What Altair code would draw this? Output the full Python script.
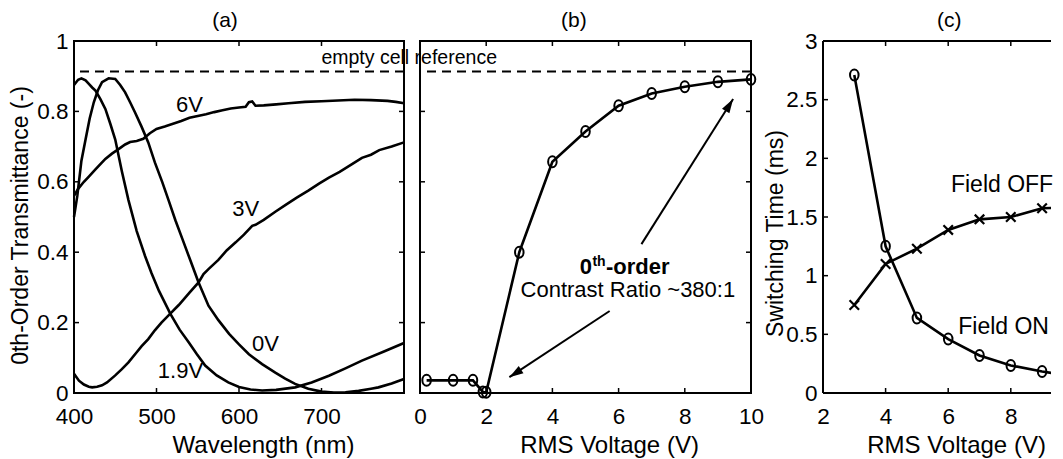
import altair as alt
import pandas as pd

FONT = "Liberation Sans"
BLACK = "#000000"
H = 352
WA, WB, WC = 330, 331, 228
TK = 5

# ---------------- panel (a): spectra ----------------
wl_0v = [400, 404, 409, 414, 419, 424, 429, 434, 442, 450, 456, 462, 468, 474, 482, 490, 498, 507, 515, 523,
         531, 541, 551, 563, 575, 588, 600, 612, 628, 644, 656, 668, 684, 700, 715, 729, 745, 760, 769, 785, 800]
t_0v = [0.50, 0.56, 0.66, 0.72, 0.78, 0.826, 0.86, 0.883, 0.894, 0.892, 0.875, 0.854, 0.826, 0.797, 0.756, 0.712,
        0.655, 0.599, 0.545, 0.49, 0.44, 0.377, 0.314, 0.248, 0.207, 0.168, 0.138, 0.110, 0.082, 0.058, 0.041,
        0.026, 0.012, 0.004, 0.001, 0.002, 0.006, 0.012, 0.016, 0.027, 0.040]

wl_19v = [400, 405, 409, 414, 418, 422, 426, 432, 438, 444, 450, 458, 466, 476, 486, 494, 503, 517, 528, 539,
          549, 559, 573, 587, 600, 614, 628, 645, 668, 688, 709, 729, 749, 775, 800]
t_19v = [0.875, 0.89, 0.894, 0.888, 0.878, 0.868, 0.859, 0.835, 0.807, 0.765, 0.72, 0.63, 0.548, 0.46, 0.39,
         0.34, 0.29, 0.224, 0.18, 0.144, 0.11, 0.078, 0.05, 0.030, 0.017, 0.01, 0.007, 0.009, 0.016, 0.03,
         0.049, 0.07, 0.092, 0.117, 0.142]

wl_3v = [400, 406, 412, 418, 422, 428, 434, 440, 450, 458, 466, 475, 482, 490, 498, 506, 517, 527, 540, 551,
         557, 563, 575, 585, 596, 606, 616, 620, 630, 644, 657, 670, 684, 697, 709, 722, 737, 749, 760, 770, 785, 800]
t_3v = [0.055, 0.035, 0.024, 0.018, 0.016, 0.018, 0.022, 0.03, 0.05, 0.068, 0.087, 0.113, 0.133, 0.153, 0.178,
        0.2, 0.226, 0.25, 0.285, 0.314, 0.338, 0.352, 0.378, 0.405, 0.428, 0.45, 0.475, 0.478, 0.492, 0.515,
        0.535, 0.555, 0.575, 0.595, 0.612, 0.628, 0.65, 0.668, 0.677, 0.69, 0.7, 0.712]

wl_6v = [400, 405, 412, 418, 426, 432, 438, 446, 454, 462, 468, 476, 484, 492, 500, 510, 520, 530, 540, 550,
         560, 570, 580, 590, 600, 608, 612, 616, 620, 630, 645, 660, 680, 700, 720, 740, 760, 780, 790, 800]
t_6v = [0.56, 0.58, 0.6, 0.615, 0.635, 0.65, 0.665, 0.68, 0.693, 0.706, 0.713, 0.716, 0.722, 0.738, 0.75,
        0.757, 0.765, 0.773, 0.782, 0.787, 0.792, 0.798, 0.803, 0.808, 0.811, 0.813, 0.826, 0.828, 0.816,
        0.817, 0.82, 0.823, 0.827, 0.829, 0.831, 0.833, 0.832, 0.83, 0.827, 0.823]

a_labels = ["6V", "3V", "0V", "1.9V"]
a_label_x = [540, 608, 632, 529]
a_label_y = [0.797, 0.504, 0.120, 0.042]

empty_ref = 0.913
a_xticks = [400, 500, 600, 700]
a_yticks = [0, 0.2, 0.4, 0.6, 0.8, 1]

# ---------------- panel (b): transmittance vs voltage ----------------
v_b = [0.2, 1, 1.6, 1.9, 2, 3, 4, 5, 6, 7, 8, 9, 10]
t_b = [0.036, 0.036, 0.036, 0.003, 0.002, 0.400, 0.657, 0.743, 0.816, 0.851, 0.870, 0.884, 0.891]
b_xticks = [0, 2, 4, 6, 8, 10]

arrow1_x = [6.69, 9.46]
arrow1_y = [0.423, 0.835]
arrow2_x = [5.73, 2.70]
arrow2_y = [0.233, 0.045]

# ---------------- panel (c): switching times ----------------
v_c = [3, 4, 5, 6, 7, 8, 9, 10]
t_on = [2.71, 1.25, 0.64, 0.46, 0.32, 0.235, 0.184, 0.14]
t_off = [0.75, 1.10, 1.23, 1.39, 1.48, 1.50, 1.575, 1.58]
c_xticks = [2, 4, 6, 8]
c_yticks = [0, 0.5, 1, 1.5, 2, 2.5, 3]
c_xmax = 2 + WC / 31.3   # the panel is cut at the picture's right edge

# panel titles (placed in each panel's data frame, above the plot)
titles = ["(a)", "(b)", "(c)"]
title_x = [583, 4.65, 6.03]
title_y = [1.0398, 1.0398, 3.119]

ELLIPSE = "M0,-1A0.78,1,0,1,1,0,1A0.78,1,0,1,1,0,-1Z"
XMARK = "M-1,-1L1,1M-1,1L1,-1"
HEAD = "M0,0L0.42,1.35L-0.42,1.35Z"


def xenc(domain, values, title, title_x):
    return alt.X("x:Q", scale=alt.Scale(domain=domain, nice=False, zero=False),
                 axis=alt.Axis(values=values, format="d", title=title, ticks=False, tickSize=0,
                               domain=False, grid=False, labelPadding=12, labelFontSize=22.5,
                               labelFont=FONT, labelColor=BLACK, labelFlush=False, labelOverlap=False,
                               titleFontSize=24, titleFont=FONT, titleFontWeight="normal",
                               titleColor=BLACK, titleX=title_x, titleY=59,
                               titleBaseline="alphabetic"))


def yenc(domain, values, title, title_x, title_y):
    if title is None:
        return alt.Y("y:Q", scale=alt.Scale(domain=domain, nice=False, zero=False), axis=None)
    return alt.Y("y:Q", scale=alt.Scale(domain=domain, nice=False, zero=False),
                 axis=alt.Axis(values=values, format="~g", title=title, ticks=False, tickSize=0,
                               domain=False, grid=False, labelPadding=6, labelFontSize=22.5,
                               labelFont=FONT, labelColor=BLACK, labelFlush=False, labelOverlap=False,
                               titleFontSize=23, titleFont=FONT, titleFontWeight="normal",
                               titleColor=BLACK, titleX=title_x, titleY=title_y,
                               titleBaseline="alphabetic"))


def tick_layers(X, Y, xt, yt, width, sides=("l", "r", "b", "t")):
    out = []
    dx = pd.DataFrame({"x": xt})
    dy = pd.DataFrame({"y": yt})
    if "b" in sides:
        out.append(alt.Chart(dx).mark_rule(color=BLACK, strokeWidth=1.5).encode(
            x=X, y=alt.value(H), y2=alt.value(H - TK)))
    if "t" in sides:
        out.append(alt.Chart(dx).mark_rule(color=BLACK, strokeWidth=1.5).encode(
            x=X, y=alt.value(0), y2=alt.value(TK)))
    if "l" in sides:
        out.append(alt.Chart(dy).mark_rule(color=BLACK, strokeWidth=1.5).encode(
            y=Y, x=alt.value(0), x2=alt.value(TK)))
    if "r" in sides:
        out.append(alt.Chart(dy).mark_rule(color=BLACK, strokeWidth=1.5).encode(
            y=Y, x=alt.value(width - TK), x2=alt.value(width)))
    return out


def title_layer(i, X, Y):
    return alt.Chart(pd.DataFrame({"x": [title_x[i]], "y": [title_y[i]], "t": [titles[i]]})).mark_text(
        font=FONT, fontSize=21, color=BLACK, align="center", baseline="alphabetic").encode(
        x=X, y=Y, text="t:N")


# ---------- build panel (a) ----------
rows = []
for name, wl, tt in [("0V", wl_0v, t_0v), ("1.9V", wl_19v, t_19v), ("3V", wl_3v, t_3v), ("6V", wl_6v, t_6v)]:
    for a, b in zip(wl, tt):
        rows.append({"x": a, "y": b, "s": name})
df_a = pd.DataFrame(rows)

XA = xenc([400, 800], a_xticks, "Wavelength (nm)", 189)
YA = yenc([0, 1], a_yticks, "0th-Order Transmittance (-)", -47, 184)

a_lines = alt.Chart(df_a).mark_line(color=BLACK, strokeWidth=2.6).encode(x=XA, y=YA, detail="s:N")
a_ref = alt.Chart(pd.DataFrame({"y": [empty_ref]})).mark_rule(
    color=BLACK, strokeWidth=2, strokeDash=[9, 6]).encode(y=YA)
a_text = alt.Chart(pd.DataFrame({"x": a_label_x, "y": a_label_y, "t": a_labels})).mark_text(
    font=FONT, fontSize=22, color=BLACK, align="center", baseline="alphabetic").encode(x=XA, y=YA, text="t:N")
a_reftext = alt.Chart(pd.DataFrame({"x": [806.3], "y": [0.935], "t": ["empty cell reference"]})).mark_text(
    font=FONT, fontSize=19.5, color=BLACK, align="center", baseline="alphabetic").encode(x=XA, y=YA, text="t:N")

panel_a = alt.layer(a_lines, a_ref, a_text, a_reftext, title_layer(0, XA, YA),
                    *tick_layers(XA, YA, a_xticks, a_yticks, WA)).properties(width=WA, height=H)

# ---------- build panel (b) ----------
XB = xenc([0, 10], b_xticks, "RMS Voltage (V)", 189)
YB = yenc([0, 1], a_yticks, None, 0, 0)
df_b = pd.DataFrame({"x": v_b, "y": t_b})
b_line = alt.Chart(df_b).mark_line(color=BLACK, strokeWidth=2.6).encode(x=XB, y=YB)
b_pts = alt.Chart(df_b).mark_point(shape=ELLIPSE, size=120, filled=False, color=BLACK, strokeWidth=2,
                                   opacity=1).encode(x=XB, y=YB)
b_ref = alt.Chart(pd.DataFrame({"y": [empty_ref]})).mark_rule(
    color=BLACK, strokeWidth=2, strokeDash=[9, 6]).encode(y=YB)
df_arr = pd.DataFrame({"x": arrow1_x + arrow2_x, "y": arrow1_y + arrow2_y, "a": [1, 1, 2, 2]})
b_arr = alt.Chart(df_arr).mark_line(color=BLACK, strokeWidth=2).encode(x=XB, y=YB, detail="a:N")
b_head1 = alt.Chart(pd.DataFrame({"x": [arrow1_x[1]], "y": [arrow1_y[1]]})).mark_point(
    shape=HEAD, size=430, filled=True, color=BLACK, opacity=1, angle=32).encode(x=XB, y=YB)
b_head2 = alt.Chart(pd.DataFrame({"x": [arrow2_x[1]], "y": [arrow2_y[1]]})).mark_point(
    shape=HEAD, size=430, filled=True, color=BLACK, opacity=1, angle=237).encode(x=XB, y=YB)
b_t0 = alt.Chart(pd.DataFrame({"x": [5.195], "y": [0.338], "t": ["0"]})).mark_text(
    font=FONT, fontSize=22, fontWeight="bold", color=BLACK, align="right", baseline="alphabetic").encode(
    x=XB, y=YB, text="t:N")
b_tth = alt.Chart(pd.DataFrame({"x": [5.21], "y": [0.362], "t": ["th"]})).mark_text(
    font=FONT, fontSize=14, fontWeight="bold", color=BLACK, align="left", baseline="alphabetic").encode(
    x=XB, y=YB, text="t:N")
b_tord = alt.Chart(pd.DataFrame({"x": [5.62], "y": [0.338], "t": ["-order"]})).mark_text(
    font=FONT, fontSize=22, fontWeight="bold", color=BLACK, align="left", baseline="alphabetic").encode(
    x=XB, y=YB, text="t:N")
b_tcr = alt.Chart(pd.DataFrame({"x": [6.28], "y": [0.272], "t": ["Contrast Ratio ~380:1"]})).mark_text(
    font=FONT, fontSize=22, color=BLACK, align="center", baseline="alphabetic").encode(
    x=XB, y=YB, text="t:N")

panel_b = alt.layer(b_ref, b_line, b_pts, b_arr, b_head1, b_head2, b_t0, b_tth, b_tord, b_tcr,
                    title_layer(1, XB, YB),
                    *tick_layers(XB, YB, [2, 4, 6, 8], [0.2, 0.4, 0.6, 0.8], WB)).properties(width=WB, height=H)

# ---------- spacer ----------
spacer = alt.Chart(pd.DataFrame({"x": [0], "y": [0]})).mark_point(opacity=0).encode(
    x=alt.X("x:Q", axis=None), y=alt.Y("y:Q", axis=None)).properties(
    width=40, height=H, view=alt.ViewBackground(stroke="transparent"))

# ---------- build panel (c) ----------
XC = xenc([2, c_xmax], c_xticks, "RMS Voltage (V)", 133)
YC = yenc([0, 3], c_yticks, "Switching Time (ms)", -41, 192)
df_on = pd.DataFrame({"x": v_c, "y": t_on})
df_off = pd.DataFrame({"x": v_c, "y": t_off})
c_on_l = alt.Chart(df_on).mark_line(color=BLACK, strokeWidth=2.6, clip=True).encode(x=XC, y=YC)
c_on_p = alt.Chart(df_on).mark_point(shape=ELLIPSE, size=120, filled=False, color=BLACK, strokeWidth=2,
                                     opacity=1, clip=True).encode(x=XC, y=YC)
c_off_l = alt.Chart(df_off).mark_line(color=BLACK, strokeWidth=2.6, clip=True).encode(x=XC, y=YC)
c_off_p = alt.Chart(df_off).mark_point(shape=XMARK, size=90, filled=False, color=BLACK, strokeWidth=2.2,
                                       opacity=1, clip=True).encode(x=XC, y=YC)
c_text = alt.Chart(pd.DataFrame({"x": [7.72, 7.77], "y": [1.711, 0.505], "t": ["Field OFF", "Field ON"]})).mark_text(
    font=FONT, fontSize=23, color=BLACK, align="center", baseline="alphabetic").encode(x=XC, y=YC, text="t:N")
c_hframe = alt.Chart(pd.DataFrame({"y": [0, 3]})).mark_rule(color=BLACK, strokeWidth=2).encode(y=YC)
c_vframe = alt.Chart(pd.DataFrame({"x": [2]})).mark_rule(color=BLACK, strokeWidth=2).encode(x=XC)

panel_c = alt.layer(c_on_l, c_on_p, c_off_l, c_off_p, c_text, c_hframe, c_vframe, title_layer(2, XC, YC),
                    *tick_layers(XC, YC, [4, 6, 8], [0.5, 1, 1.5, 2, 2.5], WC, sides=("l", "b", "t"))).properties(
    width=WC, height=H, view=alt.ViewBackground(stroke="transparent"))

chart = alt.hconcat(panel_a, panel_b, spacer, panel_c, spacing=16, bounds="flush").properties(
    padding={"left": 0, "top": 0, "right": 0, "bottom": 0},
    background="white",
).configure_view(stroke=BLACK, strokeWidth=2)

chart.save("out.html", embed_options={"renderer": "svg", "actions": False})
